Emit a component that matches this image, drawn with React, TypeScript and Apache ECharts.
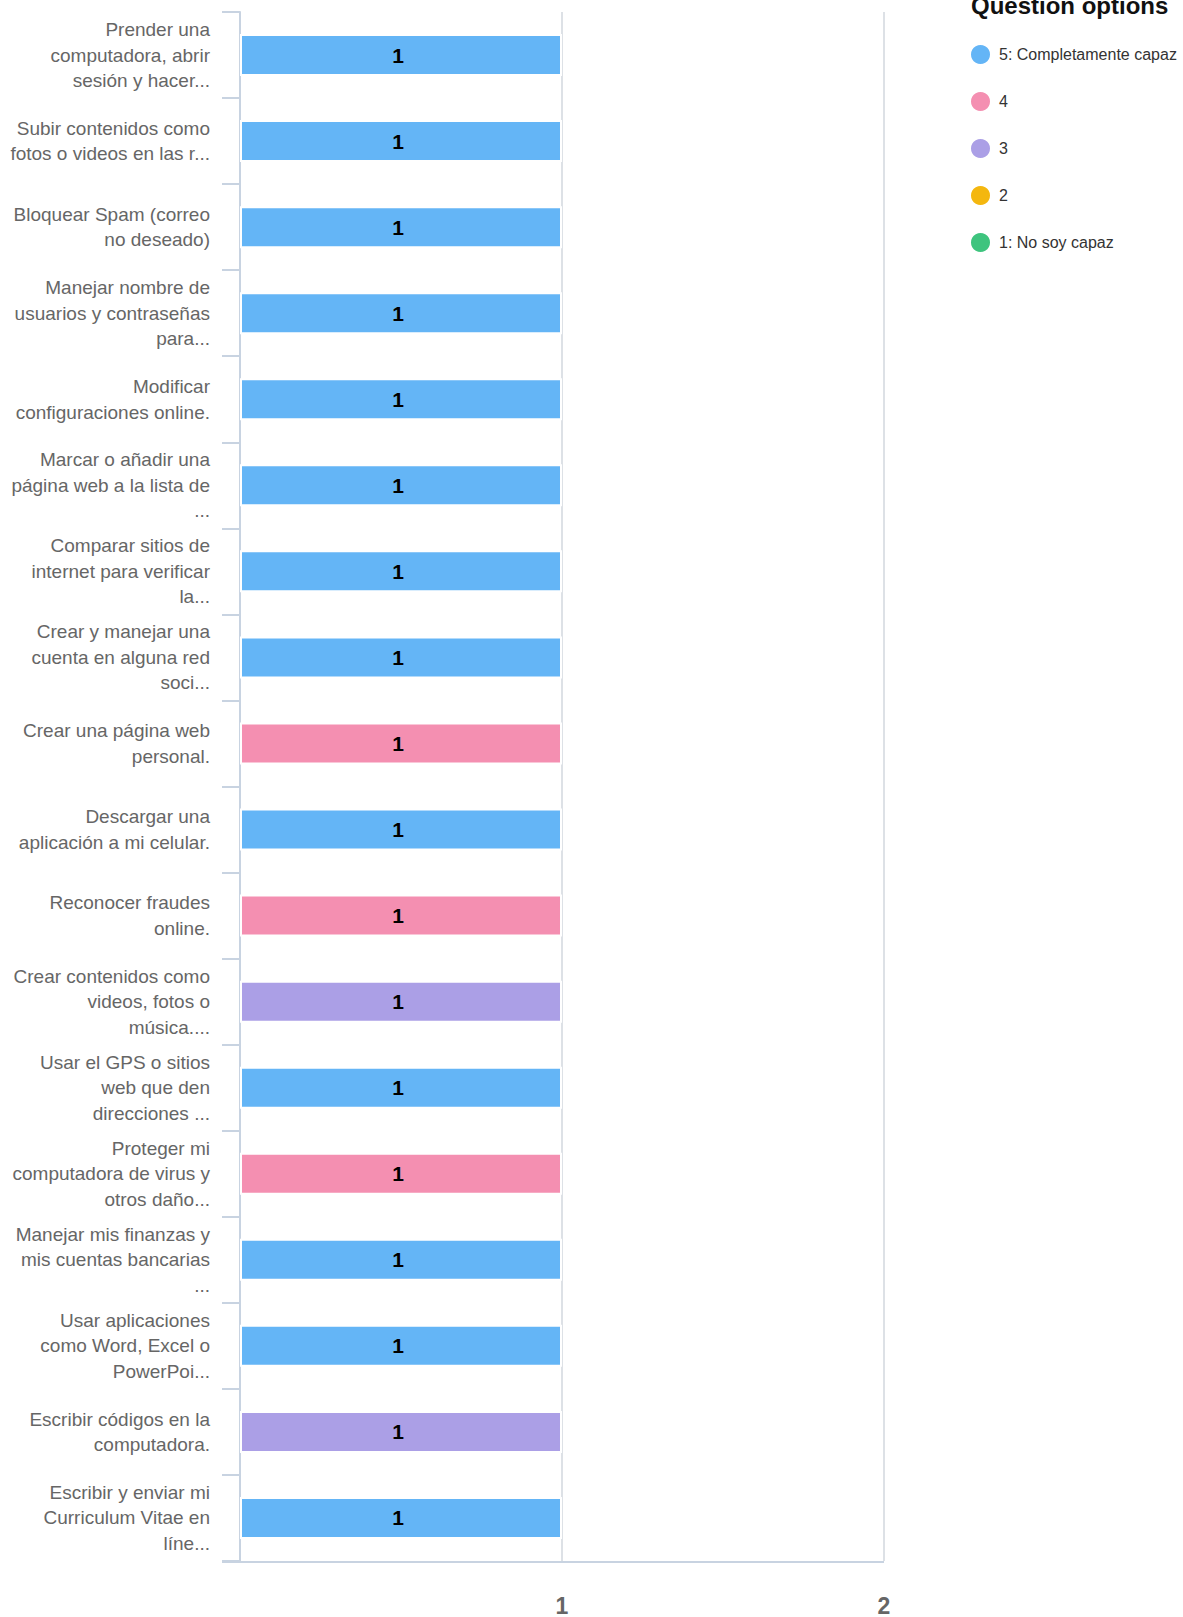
import React, { useEffect, useRef } from "react";
import * as echarts from "echarts";

const categories: string[] = [
  "Prender una\ncomputadora, abrir\nsesión y hacer...",
  "Subir contenidos como\nfotos o videos en las r...",
  "Bloquear Spam (correo\nno deseado)",
  "Manejar nombre de\nusuarios y contraseñas\npara...",
  "Modificar\nconfiguraciones online.",
  "Marcar o añadir una\npágina web a la lista de\n...",
  "Comparar sitios de\ninternet para verificar\nla...",
  "Crear y manejar una\ncuenta en alguna red\nsoci...",
  "Crear una página web\npersonal.",
  "Descargar una\naplicación a mi celular.",
  "Reconocer fraudes\nonline.",
  "Crear contenidos como\nvideos, fotos o\nmúsica....",
  "Usar el GPS o sitios\nweb que den\ndirecciones ...",
  "Proteger mi\ncomputadora de virus y\notros daño...",
  "Manejar mis finanzas y\nmis cuentas bancarias\n...",
  "Usar aplicaciones\ncomo Word, Excel o\nPowerPoi...",
  "Escribir códigos en la\ncomputadora.",
  "Escribir y enviar mi\nCurriculum Vitae en\nlíne...",
];

const seriesNames: string[] = ["5: Completamente capaz", "4", "3", "2", "1: No soy capaz"];
const seriesColors: string[] = ["#64b5f6", "#f48fb1", "#ab9fe6", "#f4b70f", "#3ec47e"];

const s5: (number | null)[] = [1, 1, 1, 1, 1, 1, 1, 1, null, 1, null, null, 1, null, 1, 1, null, 1];
const s4: (number | null)[] = [null, null, null, null, null, null, null, null, 1, null, 1, null, null, 1, null, null, null, null];
const s3: (number | null)[] = [null, null, null, null, null, null, null, null, null, null, null, 1, null, null, null, null, 1, null];
const s2: (number | null)[] = [null, null, null, null, null, null, null, null, null, null, null, null, null, null, null, null, null, null];
const s1: (number | null)[] = [null, null, null, null, null, null, null, null, null, null, null, null, null, null, null, null, null, null];

const seriesData = [s5, s4, s3, s2, s1];
const xTicks = [0, 1, 2];

export default function App() {
  const ref = useRef<HTMLDivElement>(null);
  useEffect(() => {
    document.body.style.margin = "0";
    const chart = echarts.init(ref.current!, undefined, { renderer: "svg" });
    chart.setOption({
      animation: false,
      textStyle: { fontFamily: "Liberation Sans, Arial, sans-serif" },
      title: {
        text: "Question options",
        left: 966,
        top: -12,
        textStyle: { fontSize: 24, fontWeight: "bold", color: "#111" },
      },
      legend: {
        orient: "vertical",
        left: 964,
        top: 38,
        itemWidth: 21,
        itemHeight: 21,
        itemGap: 24,
        icon: "circle",
        data: seriesNames,
        textStyle: { fontSize: 16, color: "#333", padding: [0, 0, 0, 3] },
      },
      grid: { left: 240, top: 12, width: 644, height: 1550 },
      xAxis: {
        type: "value",
        min: xTicks[0],
        max: xTicks[xTicks.length - 1],
        interval: 1,
        axisLine: { show: false },
        axisTick: { show: false },
        axisLabel: {
          showMinLabel: false,
          margin: 33,
          fontSize: 23,
          fontWeight: "bold",
          color: "#666",
        },
        splitLine: { show: true, lineStyle: { color: "#dde1e6", width: 2 } },
      },
      yAxis: {
        type: "category",
        inverse: true,
        data: categories,
        axisLine: { show: true, lineStyle: { color: "#c8d3e1", width: 2 } },
        axisTick: { show: true, length: 18, lineStyle: { color: "#c8d3e1", width: 2 } },
        axisLabel: {
          margin: 30,
          fontSize: 19,
          lineHeight: 25.5,
          color: "#666",
          align: "right",
        },
      },
      series: seriesNames.map((name, i) => ({
        name,
        type: "bar",
        stack: "total",
        barWidth: 42,
        data: seriesData[i],
        itemStyle: { color: seriesColors[i], borderColor: "#fff", borderWidth: 2 },
        label: {
          show: true,
          position: "inside",
          offset: [-3, 0],
          fontSize: 21,
          fontWeight: "bold",
          color: "#000",
          formatter: (p: any) => (p.value == null ? "" : String(p.value)),
        },
      })),
      graphic: [
        {
          type: "line",
          shape: { x1: 222, y1: 1562, x2: 884, y2: 1562 },
          style: { stroke: "#c8d3e1", lineWidth: 2 },
        },
      ],
    });
    return () => chart.dispose();
  }, []);
  return <div ref={ref} style={{ width: 1183, height: 1617 }} />;
}
